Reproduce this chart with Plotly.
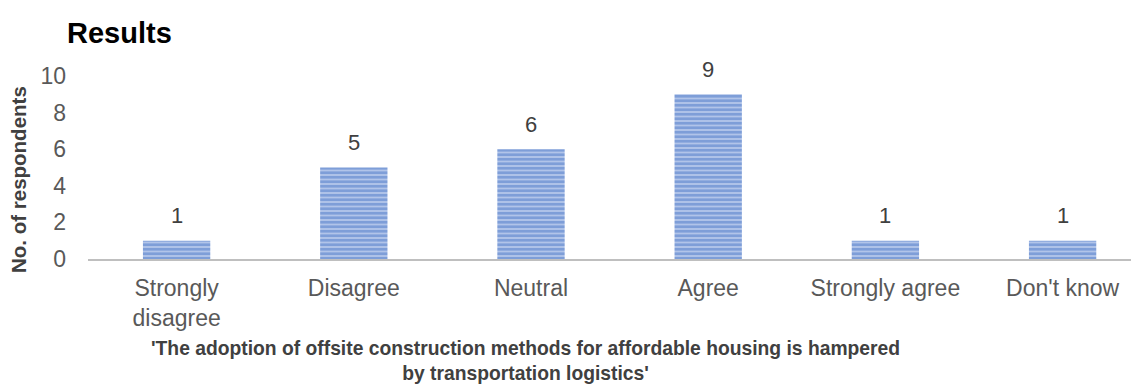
import plotly.graph_objects as go

CATEGORIES = ['Strongly<br>disagree', 'Disagree', 'Neutral', 'Agree', 'Strongly agree', "Don't know"]
COUNTS = [1, 5, 6, 9, 1, 1]
Y_TICKS = [0, 2, 4, 6, 8, 10]

# the page body adds an 8px margin, so the figure is 8px smaller than the window
OFF = 8
W, H = 1139 - OFF, 388 - OFF
L, R, T, B = 88 - OFF, 0, 76 - OFF, 129
PW = W - L - R
PH = H - T - B
FONT = 'Liberation Sans, Arial, sans-serif'

fig = go.Figure(go.Bar(
    x=CATEGORIES, y=COUNTS,
    width=0.38,
    marker=dict(
        color='#8eaadf',
        line=dict(width=0),
        pattern=dict(shape='-', fgcolor='#4472c4', bgcolor='#b8caec', size=4.5, solidity=0.65),
    ),
))

# value labels sit a bit higher above the bars than plotly's outside text
for cat, n in zip(CATEGORIES, COUNTS):
    fig.add_annotation(x=cat, y=n, text=str(n), showarrow=False, yanchor='middle', yshift=25,
                       font=dict(size=22, color='#404040'))

# keep the right-hand edge clipped like the reference
x_span = PW / 177.2

fig.update_layout(
    width=W, height=H,
    margin=dict(l=L, r=R, t=T, b=B),
    paper_bgcolor='white', plot_bgcolor='white',
    font=dict(family=FONT, color='#595959', size=23),
    showlegend=False,
    title=dict(text='<b>Results</b>', x=(67 - OFF) / W, xanchor='left', y=1 - (33 - OFF) / H,
               yanchor='middle', font=dict(size=29, color='black')),
    xaxis=dict(range=[-0.5, -0.5 + x_span], showgrid=False, showline=True, linecolor='#bfbfbf',
               linewidth=2, ticks='', tickfont=dict(size=23, color='#595959'), ticklabelstandoff=7),
    yaxis=dict(range=[0, 10], tickvals=Y_TICKS, showgrid=False, zeroline=False, showline=False,
               tickfont=dict(size=23, color='#595959'), ticklabelstandoff=21),
)

fig.add_annotation(
    text='<b>No. of respondents</b>', textangle=-90,
    xref='paper', yref='paper', x=(18 - 88) / PW, y=(259 - 180) / PH,
    xanchor='center', yanchor='middle', showarrow=False,
    font=dict(size=20.5, color='#404040'),
)

fig.add_annotation(
    text="<b>'The adoption of offsite construction methods for affordable housing is hampered<br>"
         "by transportation logistics'</b>",
    xref='paper', yref='paper', x=(525 - 88) / PW, y=-(361 - 259) / PH,
    xanchor='center', yanchor='middle', showarrow=False,
    font=dict(size=19.3, color='#404040'), align='center',
)

fig.write_html("out.html")
